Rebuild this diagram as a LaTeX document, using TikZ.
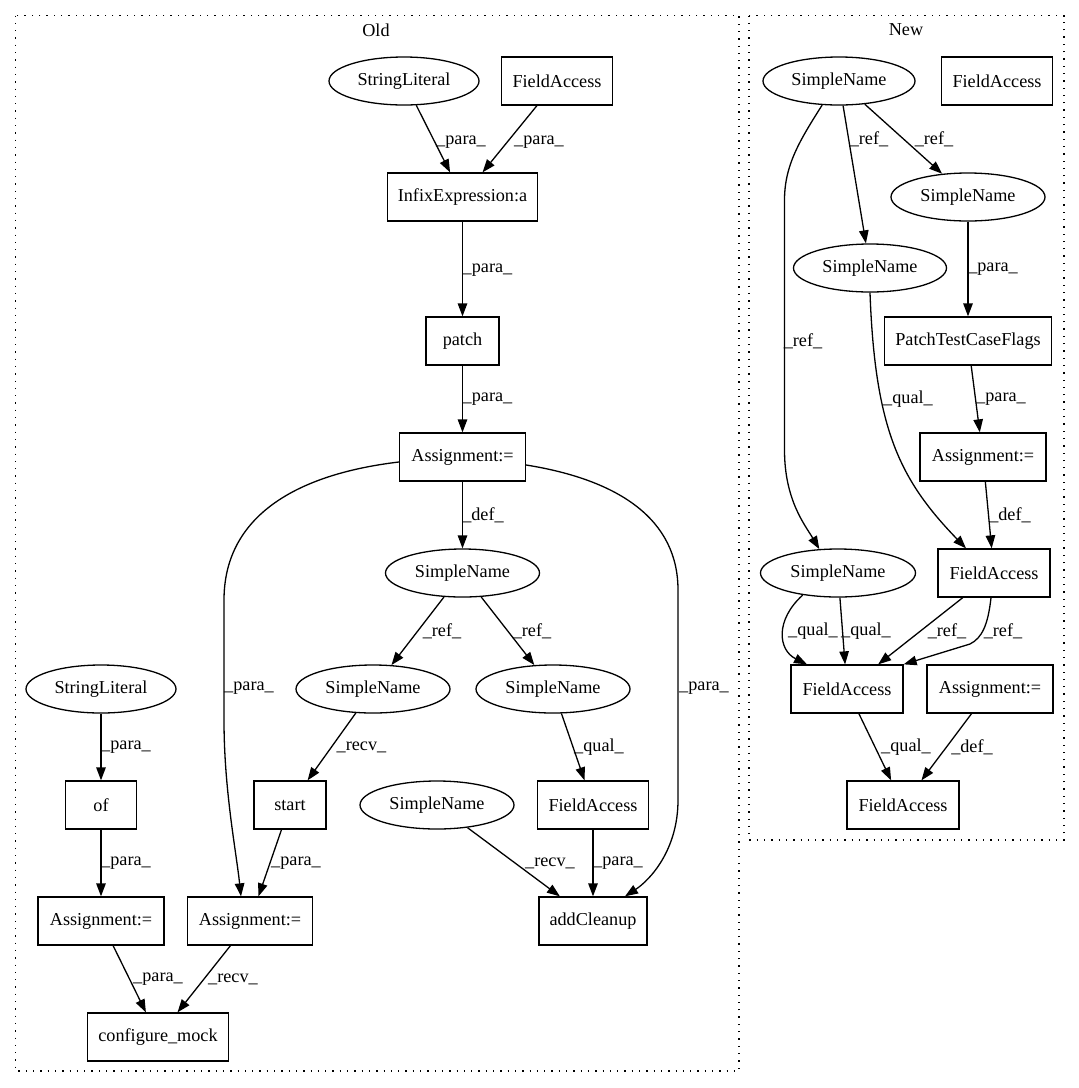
\documentclass[tikz,border=0pt]{standalone}
\usepackage{fontspec}
\setmainfont{Liberation Serif}
\usetikzlibrary{arrows.meta,shapes.geometric}
\begin{document}
\begin{tikzpicture}[x=1pt,y=-1pt,
  every node/.style={font=\fontsize{18.2}{21}\selectfont},
  box/.style={draw, line width=1.3pt, rectangle, minimum height=48pt, inner sep=0pt},
  ell/.style={draw, line width=1.3pt, ellipse, minimum height=48pt, inner sep=0pt},
  edge/.style={line width=1.3pt, -{Triangle[length=13pt,width=9.5pt]}},
  lab/.style={inner sep=0pt},
  cluster/.style={line width=1.3pt, dash pattern=on 1.3pt off 6pt}]
\useasboundingbox (0,0) rectangle (1079,1088);

% clusters
\draw[cluster] (15.5,15.5) rectangle (739,1071);
\node (oldlabel) at (376,30) {Old};
\draw[cluster] (749,15.5) rectangle (1064,840);
\node (newlabel) at (906,30) {New};

% Old nodes
\node[ell, minimum width=150pt] (osl) at (404,81) {StringLiteral};
\node[box, minimum width=111pt] (ofa) at (557,81) {FieldAccess};
\node[box, minimum width=150pt] (oinf) at (462.5,197) {InfixExpression:a};
\node[box, minimum width=73pt] (opatch) at (462.5,341) {patch};
\node[box, minimum width=126pt] (oas) at (462.5,457) {Assignment:=};
\node[ell, minimum width=154pt] (osn) at (462.5,573) {SimpleName};
\node[ell, minimum width=154pt] (osnl) at (373,689) {SimpleName};
\node[ell, minimum width=154pt] (osnr) at (553,689) {SimpleName};
\node[ell, minimum width=150pt] (osl2) at (101,689) {StringLiteral};
\node[box, minimum width=71pt] (oof) at (101,805) {of};
\node[box, minimum width=72pt] (ostart) at (290,805) {start};
\node[ell, minimum width=154pt] (osnrecv) at (437,805) {SimpleName};
\node[box, minimum width=111pt] (ofa2) at (593,805) {FieldAccess};
\node[box, minimum width=126pt] (oasl) at (101,921) {Assignment:=};
\node[box, minimum width=125pt] (oasm) at (250,921) {Assignment:=};
\node[box, minimum width=108pt] (oadd) at (593,921) {addCleanup};
\node[box, minimum width=141pt] (ocm) at (158,1037) {configure\_mock};

% New nodes
\node[ell, minimum width=152pt] (nsn) at (839,81) {SimpleName};
\node[box, minimum width=111pt] (nfa) at (997,81) {FieldAccess};
\node[ell, minimum width=154pt] (nsn2) at (968,197) {SimpleName};
\node[ell, minimum width=153pt] (nsn3) at (870,268) {SimpleName};
\node[box, minimum width=167pt] (nptc) at (968,341) {PatchTestCaseFlags};
\node[box, minimum width=126pt] (nas) at (983,457) {Assignment:=};
\node[ell, minimum width=155pt] (nsn4) at (838,573) {SimpleName};
\node[box, minimum width=112pt] (nfa2) at (994,573) {FieldAccess};
\node[box, minimum width=112pt] (nfa3) at (847,689) {FieldAccess};
\node[box, minimum width=126pt] (nas2) at (990,689) {Assignment:=};
\node[box, minimum width=112pt] (nfa4) at (903,805) {FieldAccess};

% Old edges
\draw[edge] (osl) -- (oinf) node[lab, at={(461,142)}] {\_para\_};
\draw[edge] (ofa) -- (oinf) node[lab, at={(539,142)}] {\_para\_};
\draw[edge] (oinf) -- (opatch) node[lab, at={(487.5,270)}] {\_para\_};
\draw[edge] (opatch) -- (oas) node[lab, at={(487.5,399)}] {\_para\_};
\draw[edge] (oas) -- (osn) node[lab, at={(483,515)}] {\_def\_};
\draw[edge] (osn) -- (osnl) node[lab, at={(442,631)}] {\_ref\_};
\draw[edge] (osn) -- (osnr) node[lab, at={(532,631)}] {\_ref\_};
\draw[edge] ([yshift=-5pt]oas.west) .. controls (290,475) and (224,520) .. (224,600)
   -- (224,720) .. controls (224,790) and (236,850) .. ([xshift=-9pt]oasm.north)
   node[lab, at={(249,688)}] {\_para\_};
\draw[edge] ([yshift=-8pt]oas.east) .. controls (620,480) and (678,520) .. (678,590)
   -- (678,800) .. controls (678,850) and (650,880) .. ([xshift=32pt]oadd.north)
   node[lab, at={(704,688)}] {\_para\_};
\draw[edge] (osl2) -- (oof) node[lab, at={(126,747)}] {\_para\_};
\draw[edge] (osnl) -- (ostart) node[lab, at={(361.5,747)}] {\_recv\_};
\draw[edge] (osnr) -- (ofa2) node[lab, at={(599,747)}] {\_qual\_};
\draw[edge] (oof) -- (oasl) node[lab, at={(126,863)}] {\_para\_};
\draw[edge] (ostart) -- (oasm) node[lab, at={(296,863)}] {\_para\_};
\draw[edge] (osnrecv) -- (oadd) node[lab, at={(550,863)}] {\_recv\_};
\draw[edge] (ofa2) -- (oadd) node[lab, at={(618,863)}] {\_para\_};
\draw[edge] (oasl) -- (ocm) node[lab, at={(158,979)}] {\_para\_};
\draw[edge] (oasm) -- (ocm) node[lab, at={(233,979)}] {\_recv\_};

% New edges
\draw[edge] (nsn) -- (nsn2) node[lab, at={(934,139)}] {\_ref\_};
\draw[edge] (nsn) -- (nsn3) node[lab, at={(869,139)}] {\_ref\_};
\draw[edge] (nsn.-125) .. controls (800,140) and (784.5,165) .. (784.5,200)
   -- (784.5,450) .. controls (784.5,500) and (805,525) .. (nsn4.128)
   node[lab, at={(803,341)}] {\_ref\_};
\draw[edge] (nsn2) -- (nptc) node[lab, at={(993,269)}] {\_para\_};
\draw[edge] (nsn3.south) .. controls (875,430) and (900,480) .. ([xshift=-28pt]nfa2.north)
   node[lab, at={(908,399)}] {\_qual\_};
\draw[edge] (nptc) -- (nas) node[lab, at={(1001,399)}] {\_para\_};
\draw[edge] (nas) -- (nfa2) node[lab, at={(1010,515)}] {\_def\_};
\draw[edge] (nsn4.-148) .. controls (775,620) and (778,650) .. ([xshift=-40pt]nfa3.north)
   node[lab, at={(813,631)}] {\_qual\_};
\draw[edge] (nsn4) -- (nfa3) node[lab, at={(866,631)}] {\_qual\_};
\draw[edge] (nfa2) -- (nfa3) node[lab, at={(947,631)}] {\_ref\_};
\draw[edge] ([xshift=-3pt]nfa2.south) .. controls (988,625) and (982,638) .. (970,644)
   -- (nfa3.north east) node[lab, at={(1003,631)}] {\_ref\_};
\draw[edge] (nfa3) -- (nfa4) node[lab, at={(906,747)}] {\_qual\_};
\draw[edge] (nas2) -- (nfa4) node[lab, at={(972,747)}] {\_def\_};
\end{tikzpicture}
\end{document}
